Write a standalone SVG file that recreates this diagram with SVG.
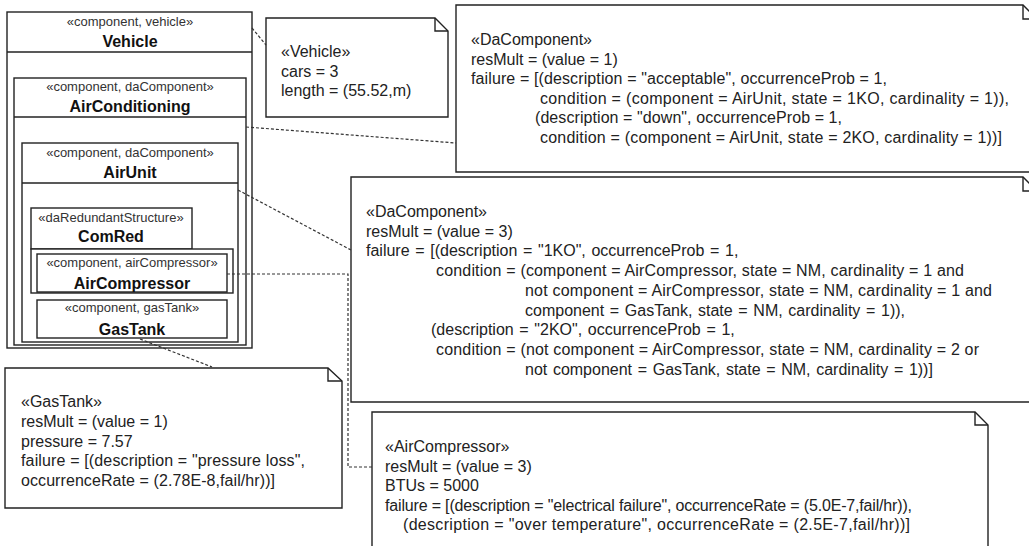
<svg xmlns="http://www.w3.org/2000/svg" width="1029" height="546" viewBox="0 0 1029 546">
<style>
.box{fill:#fff;stroke:#222;stroke-width:1.4}
.ln{fill:none;stroke:#222;stroke-width:1.4}
.st{font-family:"Liberation Sans",Arial,sans-serif;font-size:13px;fill:#333;text-anchor:middle}
.nm{font-family:"Liberation Sans",Arial,sans-serif;font-size:16px;font-weight:bold;fill:#111;text-anchor:middle}
.nt{font-family:"Liberation Sans",Arial,sans-serif;font-size:16px;fill:#222}
.ws{word-spacing:1.2px}
.cn{fill:none;stroke:#333;stroke-width:1.2;stroke-dasharray:3,2}
</style>
<rect width="1029" height="546" fill="#fff"/>
<g id="vehicle">
<rect class="box" x="7" y="12" width="245" height="336"/>
<line class="ln" x1="7" y1="52" x2="252" y2="52"/>
<text class="st" x="130" y="26">«component, vehicle»</text>
<text class="nm" x="130" y="47">Vehicle</text>
</g>
<g id="airconditioning">
<rect class="box" x="14" y="78" width="232" height="267"/>
<line class="ln" x1="14" y1="117" x2="246" y2="117"/>
<text class="st" x="130" y="91">«component, daComponent»</text>
<text class="nm" x="130" y="112">AirConditioning</text>
</g>
<g id="airunit">
<rect class="box" x="22" y="143" width="216" height="199"/>
<line class="ln" x1="22" y1="183" x2="238" y2="183"/>
<text class="st" x="130" y="157">«component, daComponent»</text>
<text class="nm" x="130" y="178">AirUnit</text>
</g>
<g id="comred">
<rect class="box" x="31" y="208" width="161" height="41"/>
<rect class="box" x="31" y="249" width="202" height="44"/>
<text class="st" x="111" y="222">«daRedundantStructure»</text>
<text class="nm" x="111" y="242">ComRed</text>
</g>
<g id="aircompressor">
<rect class="box" x="37" y="254" width="190" height="38"/>
<text class="st" x="132" y="267">«component, airCompressor»</text>
<text class="nm" x="132" y="289">AirCompressor</text>
</g>
<g id="gastank">
<rect class="box" x="37" y="300" width="190" height="38"/>
<text class="st" x="132" y="312">«component, gasTank»</text>
<text class="nm" x="132" y="335">GasTank</text>
</g>
<g id="note-vehicle">
<path class="box" d="M266,18 H435 L448,31 V117 H266 Z"/>
<path class="ln" d="M435,18 V31 H448"/>
<text class="nt" x="281" y="57">«Vehicle»</text>
<text class="nt" x="281" y="76.5">cars = 3</text>
<text class="nt" x="281" y="96">length = (55.52,m)</text>
</g>
<g id="note-aircond">
<path class="box" d="M456,5 H1023 L1037,19 V172 H456 Z"/>
<path class="ln" d="M1023,5 V19 H1037"/>
<text class="nt" x="471" y="45">«DaComponent»</text>
<text class="nt" x="471" y="64.6">resMult = (value = 1)</text>
<text class="nt" x="471" y="84.2" textLength="416">failure = [(description = "acceptable", occurrenceProb = 1,</text>
<text class="nt" x="540" y="103.8" textLength="469">condition = (component = AirUnit, state = 1KO, cardinality = 1)),</text>
<text class="nt" x="535" y="123.4" textLength="307">(description = "down", occurrenceProb = 1,</text>
<text class="nt" x="540" y="143" textLength="462">condition = (component = AirUnit, state = 2KO, cardinality = 1))]</text>
</g>
<g id="note-airunit">
<path class="box" d="M351,177 H1023 L1037,191 V402 H351 Z"/>
<path class="ln" d="M1023,177 V191 H1037"/>
<text class="nt" x="366" y="217">«DaComponent»</text>
<text class="nt" x="366" y="236.7">resMult = (value = 3)</text>
<text class="nt ws" x="366" y="256.4">failure = [(description = "1KO", occurrenceProb = 1,</text>
<text class="nt" x="436" y="276.1" textLength="528">condition = (component = AirCompressor, state = NM, cardinality = 1 and</text>
<text class="nt" x="525" y="295.8" textLength="467">not component = AirCompressor, state = NM, cardinality = 1 and</text>
<text class="nt ws" x="525" y="315.5">component = GasTank, state = NM, cardinality = 1)),</text>
<text class="nt ws" x="431" y="335.2">(description = "2KO", occurrenceProb = 1,</text>
<text class="nt" x="436" y="354.9" textLength="543">condition = (not component = AirCompressor, state = NM, cardinality = 2 or</text>
<text class="nt ws" x="525" y="374.6">not component = GasTank, state = NM, cardinality = 1))]</text>
</g>
<g id="note-gastank">
<path class="box" d="M5,368 H328 L342,381 V508 H5 Z"/>
<path class="ln" d="M328,368 V381 H342"/>
<text class="nt" x="21" y="407">«GasTank»</text>
<text class="nt" x="21" y="426.8">resMult = (value = 1)</text>
<text class="nt" x="21" y="446.6">pressure = 7.57</text>
<text class="nt" x="21" y="466.4" textLength="284">failure = [(description = "pressure loss",</text>
<text class="nt" x="21" y="486.2" textLength="254">occurrenceRate = (2.78E-8,fail/hr))]</text>
</g>
<g id="note-aircompressor">
<path class="box" d="M372,412 H975 L988,425 V560 H372 Z"/>
<path class="ln" d="M975,412 V425 H988"/>
<text class="nt" x="385" y="452">«AirCompressor»</text>
<text class="nt" x="385" y="471.6">resMult = (value = 3)</text>
<text class="nt" x="385" y="491.2">BTUs = 5000</text>
<text class="nt" x="385" y="510.8" textLength="527">failure = [(description = "electrical failure", occurrenceRate = (5.0E-7,fail/hr)),</text>
<text class="nt" x="403" y="530.4" textLength="507">(description = "over temperature", occurrenceRate = (2.5E-7,fail/hr))]</text>
</g>
<g id="connectors">
<line class="cn" x1="252" y1="28" x2="266" y2="45"/>
<line class="cn" x1="246" y1="127" x2="456" y2="143"/>
<line class="cn" x1="238" y1="190" x2="351" y2="250"/>
<polyline class="cn" points="227,274 348,274 348,467 372,467"/>
<line class="cn" x1="140" y1="339" x2="212" y2="367"/>
</g>
</svg>
